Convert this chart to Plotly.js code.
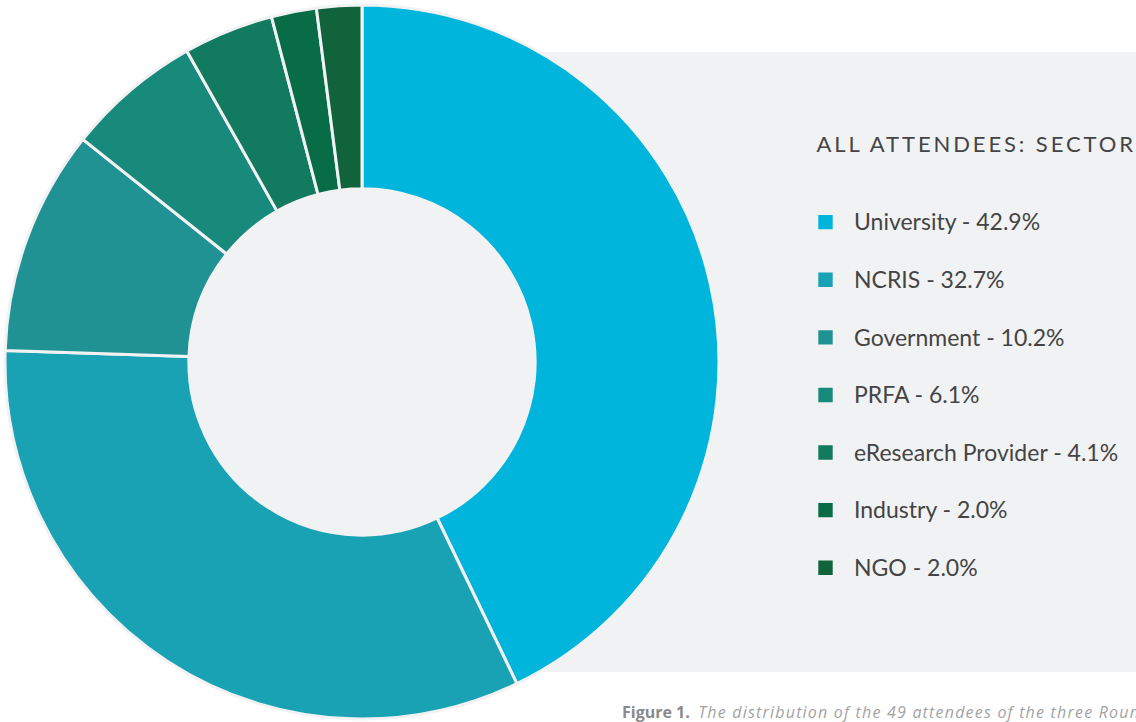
<!DOCTYPE html>
<html>
<head>
<meta charset="utf-8">
<script src="https://cdn.plot.ly/plotly-3.0.1.min.js"></script>
<style>
html,body{margin:0;padding:0;background:#fff;}
#chart{width:1136px;height:722px;}
.annotation[data-index="0"] .annotation-text{letter-spacing:2.9px;}
</style>
</head>
<body>
<div id="chart"></div>
<script>
// Data
const categories = ['University', 'NCRIS', 'Government', 'PRFA', 'eResearch Provider', 'Industry', 'NGO'];
const counts = [21, 16, 5, 3, 2, 1, 1];
const percents = ['42.9', '32.7', '10.2', '6.1', '4.1', '2.0', '2.0'];
const colors = ['#00b5dc', '#19a2b4', '#219293', '#178a7b', '#127a5e', '#086c46', '#10633a'];
const legendTitle = 'ALL ATTENDEES: SECTOR';
const captionLead = 'Figure 1.';
const captionText = 'The distribution of the 49 attendees of the three Roundtables';

const labels = categories.map((c, i) =>
  '<span style="font-size:23px">' + c + ' - ' + percents[i] + '%</span><br> ');

const trace = {
  type: 'pie',
  labels: labels,
  values: counts,
  sort: false,
  direction: 'clockwise',
  rotation: 0,
  hole: 0.485,
  textinfo: 'none',
  hoverinfo: 'none',
  marker: {colors: colors, line: {color: '#f1f2f4', width: 3}},
  domain: {x: [5/1136, 719/1136], y: [3/722, 717/722]}
};

const layout = {
  width: 1136, height: 722,
  margin: {l: 0, r: 0, t: 0, b: 0},
  paper_bgcolor: '#ffffff',
  plot_bgcolor: '#ffffff',
  showlegend: true,
  font: {family: 'Lato, "Open Sans", sans-serif', color: '#444444'},
  legend: {
    x: 797/1136, xanchor: 'left',
    y: 1 - 202/722, yanchor: 'top',
    bgcolor: 'rgba(0,0,0,0)',
    font: {size: 21, color: '#444444', family: 'Lato, sans-serif'},
    valign: 'top',
    itemwidth: 47,
    traceorder: 'normal'
  },
  shapes: [{
    type: 'rect', xref: 'paper', yref: 'paper', layer: 'below',
    x0: 190/1136, x1: 1, y0: 1 - 672/722, y1: 1 - 52/722,
    fillcolor: '#f1f2f4', line: {width: 0}
  }],
  annotations: [
    {
      text: legendTitle, xref: 'paper', yref: 'paper',
      x: 976/1136, xanchor: 'center', y: 1 - 143/722, yanchor: 'middle',
      showarrow: false, font: {size: 22, color: '#444444', family: 'Lato, sans-serif'}
    },
    {
      text: '<b>' + captionLead + '</b>  <i><span style="color:#a3a3a3;letter-spacing:1.2px">' + captionText + '</span></i>',
      xref: 'paper', yref: 'paper', align: 'left',
      x: 620/1136, xanchor: 'left', y: 1 - 712/722, yanchor: 'middle',
      showarrow: false, font: {size: 16, color: '#8a8a8a', family: '"Open Sans", sans-serif'}
    }
  ]
};

Plotly.newPlot('chart', [trace], layout, {staticPlot: true}).then(function(gd){
  document.querySelectorAll('.legendpie').forEach(function(p){
    const t = p.getAttribute('transform') || '';
    p.setAttribute('transform', t + ' scale(1.6)');
  });
});
</script>
</body>
</html>
